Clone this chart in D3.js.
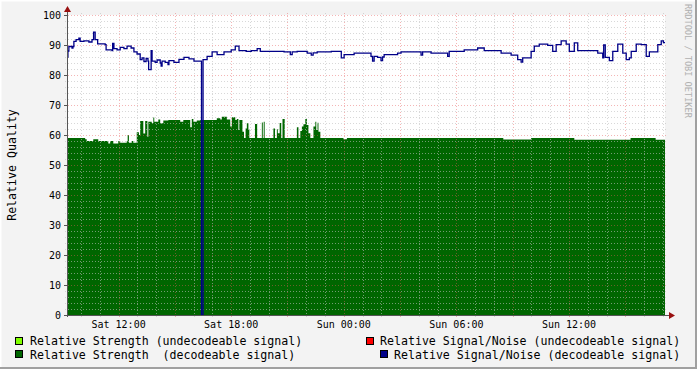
<!DOCTYPE html>
<html><head><meta charset="utf-8">
<script src="https://cdn.jsdelivr.net/npm/d3@7"></script>
<style>
html,body{margin:0;padding:0;background:#f3f3f3;}
svg{display:block;font-family:"DejaVu Sans Mono",monospace;}
</style></head>
<body>
<script>
// ---- data ----
const yTicks = [0,10,20,30,40,50,60,70,80,90,100];
const xLabelHours = ["Sat 12:00","Sat 18:00","Sun 00:00","Sun 06:00","Sun 12:00"];
// minutes since Sat 09:15, value (step after)
const snMinutes = [0,3,6,16,19,22,29,38,42,54,70,80,85,90,98,122,125,144,146,150,160,170,182,192,205,214,224,234,240,246,253,259,261,269,272,282,288,298,301,304,314,323,326,342,358,374,390,406,430,435,448,464,480,502,525,538,550,573,589,608,618,694,714,720,736,768,781,787,800,845,877,886,918,972,977,982,993,1004,1009,1014,1057,1068,1132,1137,1164,1217,1222,1270,1313,1334,1388,1420,1441,1452,1457,1484,1494,1510,1537,1553,1564,1580,1596,1606,1622,1633,1697,1713,1716,1721,1734,1745,1761,1777,1788,1798,1804,1820,1836,1852,1862,1889,1900,1907];
const snValues = [86,88,89.5,89,89.5,91.2,91.8,92.3,91.2,91.4,91,91.8,94.3,91.8,90.4,90.1,88.4,88.1,90.5,88.8,88.4,89.2,88.8,89.6,89,87.7,87,85.1,85.7,84.5,85.5,84.6,81.8,88.1,84.6,84.2,85,84,83,84.6,84.2,83.5,84.8,84.2,85.2,85.9,85.4,84.6,0,85.1,86.2,87.7,86.8,87.7,88.4,89.6,88.1,87.9,88.1,88.8,87.9,87.7,86.8,87.7,87.9,87.3,86.6,87.4,87.7,87.9,85.7,86.8,87.3,86.2,84.6,86.2,85.9,84.8,86,86.8,87.3,87.7,86.6,87.7,87.3,86.2,87.9,88.4,89,88.1,87.3,86.6,85.1,84.3,85.7,87.9,89.6,90.3,89.9,87.9,90.1,91.4,90.3,87.9,90.7,88.1,87.3,85.7,90,85.9,84.8,87.9,90.3,87.3,85.1,85.7,87.9,90.3,90.1,86.2,87.7,90.1,91.4,90.8];
const strMinutes = [0,58,63,84,100,132,138,148,164,170,191,194,198,207,212,223,230,234,244,250,257,260,271,276,279,292,298,308,324,362,372,394,399,404,415,426,479,490,495,511,522,527,538,543,548,551,561,566,571,575,580,583,601,608,623,626,629,632,660,665,671,674,680,685,689,696,735,740,746,751,756,762,767,772,778,788,794,797,801,804,810,884,895,1395,1484,1622,1802,1882];
const strValues = [59,58.6,58,58.6,58,57.2,58,57.2,58,57.4,57.9,60,57.4,58,57.4,60.9,60,64.7,60.5,64.7,59.4,64.4,64,65.8,64.4,65.2,63.9,64.8,65,64.4,65,62.6,65.3,64.4,64.8,65,65.6,65.2,66.1,65.2,62.8,65.9,65,65.3,61.7,65,61.1,59,62.2,63.9,61.9,59,63.7,59,64.2,59,64.4,59,62.2,59,61.9,60.6,64,59,65.3,59,62.6,59,61.3,62.8,63.6,65.3,63.3,60.6,59,62.8,64.4,61.7,64.1,61.1,59,58.6,59,58.5,59,58.4,59,58.4];
const legendItems = [
  {label:"Relative Strength (undecodeable signal)", color:"#80ff00"},
  {label:"Relative Signal/Noise (undecodeable signal)", color:"#ff0000"},
  {label:"Relative Strength  (decodeable signal)", color:"#006600"},
  {label:"Relative Signal/Noise (decodeable signal)", color:"#000088"}
];

// ---- setup ----
const W = 697, H = 369;
const t0 = new Date(Date.UTC(2024,0,6,9,15));
const t1 = new Date(Date.UTC(2024,0,7,17,7));
const L = 67, R = 665, T = 15, B = 315;
const x = d3.scaleUtc().domain([t0,t1]).range([L,R]);
const y = d3.scaleLinear().domain([0,100]).range([B,T]);
const toDate = m => new Date(t0.getTime() + m*60000);

function series(mins, vals){
  const d = mins.map((m,i)=>({t:toDate(m), v:vals[i]}));
  d.push({t:t1, v:vals[vals.length-1]});
  return d;
}
const sn = series(snMinutes, snValues);
const st = series(strMinutes, strValues);

const svg = d3.select("body").append("svg").attr("width",W).attr("height",H);
// frame
svg.append("rect").attr("width",W).attr("height",H).attr("fill","#f3f3f3");
svg.append("path").attr("d",`M0.5,${H} V0.5 H${W}`).attr("stroke","#ffffff").attr("stroke-width",2).attr("fill","none");
svg.append("path").attr("d",`M${W-1},0 V${H-1} H0`).attr("stroke","#a0a0a0").attr("stroke-width",2).attr("fill","none");
// canvas
svg.append("rect").attr("x",L).attr("y",T).attr("width",R-L).attr("height",B-T).attr("fill","#ffffff");

// green area
svg.append("path").datum(st)
  .attr("d", d3.area().curve(d3.curveStepAfter).x(d=>x(d.t)).y0(y(0)).y1(d=>y(d.v)))
  .attr("fill","#006600");

// grid
const g = svg.append("g").attr("shape-rendering","crispEdges");
const minorY = d3.range(0,101,2).filter(v=>v%10!==0);
g.selectAll(".hy").data(minorY).join("line")
  .attr("x1",L-2).attr("x2",R+3).attr("y1",d=>Math.round(y(d))+0.5).attr("y2",d=>Math.round(y(d))+0.5)
  .attr("stroke","rgba(190,190,190,0.6)").attr("stroke-dasharray","1,2");
const hours = d3.utcHour.range(d3.utcHour.ceil(t0), t1);
const minorX = hours.filter(d=>d.getUTCHours()%3!==0);
const majorX = hours.filter(d=>d.getUTCHours()%3===0);
g.selectAll(".vx").data(minorX).join("line")
  .attr("x1",d=>Math.round(x(d))+0.5).attr("x2",d=>Math.round(x(d))+0.5).attr("y1",T-2).attr("y2",B+2)
  .attr("stroke","rgba(190,190,190,0.6)").attr("stroke-dasharray","1,2");
g.selectAll(".my").data(yTicks.filter(v=>v>0)).join("line")
  .attr("x1",L-2).attr("x2",R+3).attr("y1",d=>Math.round(y(d))+0.5).attr("y2",d=>Math.round(y(d))+0.5)
  .attr("stroke","rgba(230,90,90,0.45)").attr("stroke-dasharray","1,2");
g.selectAll(".mx").data(majorX).join("line")
  .attr("x1",d=>Math.round(x(d))+0.5).attr("x2",d=>Math.round(x(d))+0.5).attr("y1",T-2).attr("y2",B+3)
  .attr("stroke","rgba(230,90,90,0.45)").attr("stroke-dasharray","1,2");

// blue line
svg.append("path").datum(sn)
  .attr("d", d3.line().curve(d3.curveStepAfter).x(d=>x(d.t)).y(d=>y(d.v)))
  .attr("fill","none").attr("stroke","#000088").attr("stroke-width",1.3);

// axes
const ax = svg.append("g").attr("shape-rendering","crispEdges");
ax.append("line").attr("x1",L-2).attr("x2",R+5).attr("y1",B+0.5).attr("y2",B+0.5).attr("stroke","#555");
ax.append("line").attr("x1",L+0.5).attr("x2",L+0.5).attr("y1",B+2).attr("y2",T-5).attr("stroke","#555");
ax.selectAll(".yt").data(yTicks).join("line")
  .attr("x1",L-3).attr("x2",L).attr("y1",d=>Math.round(y(d))+0.5).attr("y2",d=>Math.round(y(d))+0.5).attr("stroke","#555");
svg.append("path").attr("d",`M${L-3},${T-3} L${L+4},${T-3} L${L+0.5},${T-9} Z`).attr("fill","#991010");
svg.append("path").attr("d",`M${R+4},${B-3} L${R+4},${B+4} L${R+10},${B+0.5} Z`).attr("fill","#991010");

// y labels
svg.selectAll(".yl").data(yTicks).join("text")
  .attr("x",61).attr("y",d=>y(d)+3.5).attr("text-anchor","end")
  .attr("font-size","10px").attr("fill","#000").text(d=>d);
// x labels
const labelTimes = hours.filter(d=>d.getUTCHours()%6===0);
svg.selectAll(".xl").data(labelTimes).join("text")
  .attr("x",d=>x(d)).attr("y",328).attr("text-anchor","middle")
  .attr("font-size","10px").attr("fill","#000").text((d,i)=>xLabelHours[i]);

// y title
svg.append("text").attr("transform","translate(16,165) rotate(-90)").attr("text-anchor","middle")
  .attr("font-size","11.6px").attr("fill","#000").text("Relative Quality");
// watermark
svg.append("text").attr("transform","translate(685,4) rotate(90)").attr("text-anchor","start")
  .attr("font-size","8.6px").attr("fill","#b0b0b0").text("RRDTOOL / TOBI OETIKER");

// legend
const legPos = [{bx:15,by:337,tx:30,ty:345},{bx:366,by:337,tx:380,ty:345},{bx:15,by:350,tx:30,ty:358.5},{bx:380,by:350,tx:394,ty:358.5}];
legendItems.forEach((d,i)=>{
  const p = legPos[i];
  svg.append("rect").attr("x",p.bx+0.5).attr("y",p.by+0.5).attr("width",7).attr("height",7)
    .attr("fill",d.color).attr("stroke","#000").attr("stroke-width",1);
  svg.append("text").attr("x",p.tx).attr("y",p.ty).attr("font-size","11.6px").attr("fill","#000")
    .attr("xml:space","preserve").style("white-space","pre").text(d.label);
});
</script>
</body></html>
